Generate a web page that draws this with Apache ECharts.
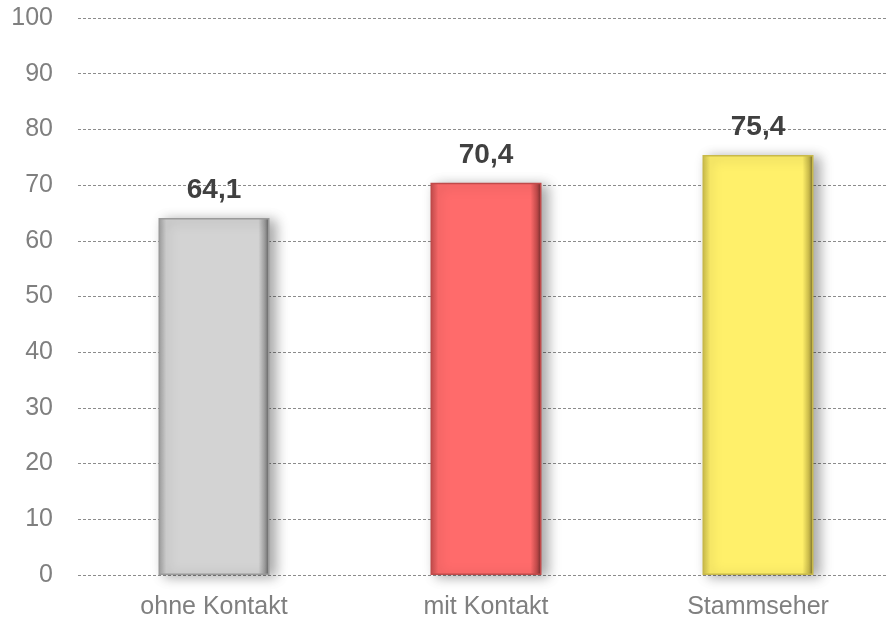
<!DOCTYPE html>
<html>
<head>
<meta charset="utf-8">
<script src="https://cdn.jsdelivr.net/npm/echarts@6/dist/echarts.min.js"></script>
<style>html,body{margin:0;padding:0;background:#fff;}#c{width:888px;height:619px;}</style>
</head>
<body>
<div id="c"></div>
<script>
const categories = ['ohne Kontakt', 'mit Kontakt', 'Stammseher'];
const values = [64.1, 70.4, 75.4];
const yTicks = [0, 10, 20, 30, 40, 50, 60, 70, 80, 90, 100];

const palette = [
  { base: '#d3d3d3', edge: '#9a9a9a', dark: '#5a5a5a', light: '#ececec' },
  { base: '#ff6b6b', edge: '#c04a4a', dark: '#6a2a2a', light: '#ff9a9a' },
  { base: '#fff06a', edge: '#c8b94a', dark: '#6e6528', light: '#fff7a8' }
];

function grad(p) {
  return new echarts.graphic.LinearGradient(0, 0, 1, 0, [
    { offset: 0, color: p.edge },
    { offset: 0.07, color: p.base },
    { offset: 0.9, color: p.base },
    { offset: 0.96, color: p.edge },
    { offset: 1, color: p.dark }
  ]);
}

const chart = echarts.init(document.getElementById('c'), null, { renderer: 'canvas' });
chart.setOption({
  animation: false,
  backgroundColor: '#ffffff',
  grid: { left: 78, width: 816, top: 18, bottom: 44, containLabel: false, outerBoundsMode: 'none' },
  xAxis: {
    type: 'category',
    data: categories,
    axisLine: { show: false },
    axisTick: { show: false },
    axisLabel: { color: '#7f7f7f', fontFamily: 'Liberation Sans, Arial, sans-serif', fontSize: 25, margin: 20 }
  },
  yAxis: {
    type: 'value',
    min: yTicks[0],
    max: yTicks[yTicks.length - 1],
    interval: 10,
    axisLine: { show: false },
    axisTick: { show: false },
    axisLabel: { color: '#7f7f7f', fontFamily: 'Liberation Sans, Arial, sans-serif', fontSize: 25, margin: 25 },
    splitLine: { show: true, lineStyle: { color: '#8c8c8c', type: [3, 2], width: 1 } }
  },
  series: [{
    type: 'bar',
    barWidth: 111,
    data: values.map((v, i) => ({
      value: v,
      itemStyle: {
        color: grad(palette[i]),
        borderColor: palette[i].edge,
        borderWidth: 1.5,
        shadowColor: 'rgba(0,0,0,0.35)',
        shadowBlur: 12,
        shadowOffsetX: 6,
        shadowOffsetY: 2
      }
    })),
    label: {
      show: true,
      position: 'top',
      distance: 14,
      color: '#404040',
      fontFamily: 'Liberation Sans, Arial, sans-serif',
      fontWeight: 'bold',
      fontSize: 28,
      formatter: p => p.value.toFixed(1).replace('.', ',')
    }
  }]
});
</script>
</body>
</html>
